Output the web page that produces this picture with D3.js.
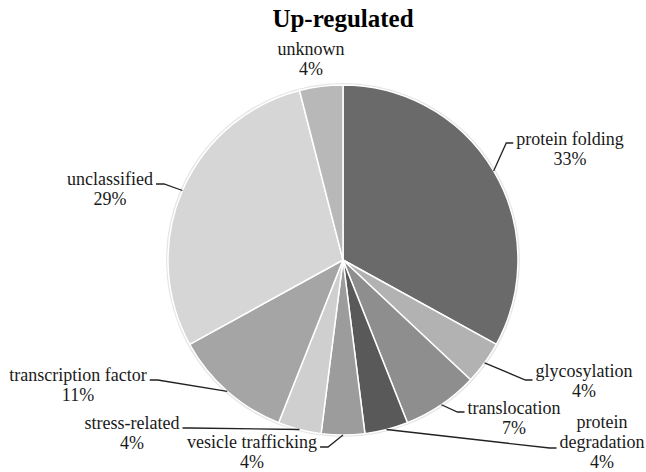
<!DOCTYPE html>
<html>
<head>
<meta charset="utf-8">
<script src="https://cdn.jsdelivr.net/npm/d3@7"></script>
<style>
  body { margin: 0; background: #fff; }
</style>
</head>
<body>
<div id="chart"></div>
<script>
var width = 646;
var height = 472;
var fontFamily = "'Liberation Serif', 'Times New Roman', Times, serif";

// slices, clockwise from 12 o'clock
var categories = ["protein folding", "glycosylation", "translocation", "protein degradation",
    "vesicle trafficking", "stress-related", "transcription factor", "unclassified", "unknown"];
var percents = [33, 4, 7, 4, 4, 4, 11, 29, 4];
var colors = ["#6a6a6a", "#b2b2b2", "#8e8e8e", "#595959", "#9c9c9c", "#cfcfcf", "#a5a5a5", "#d6d6d6", "#b8b8b8"];

// label text lines (the percentage is added as last line)
var labelLines = [
    ["protein folding"], ["glycosylation"], ["translocation"], ["protein", "degradation"],
    ["vesicle trafficking"], ["stress-related"], ["transcription factor"], ["unclassified"], ["unknown"]
];

// where each label sits (text centre x, first baseline y), which side the leader comes in from,
// which line it attaches to, and vertical nudge of the tail
var labelLayout = [
    {x: 570, y: 145, side: "left", line: 0, dy: -2},
    {x: 584, y: 377, side: "left", line: 0, dy: 3},
    {x: 514, y: 414, side: "left", line: 0, dy: -2},
    {x: 602, y: 428, side: "left", line: 1, dy: 0},
    {x: 252, y: 448, side: "right", line: 0, dy: -1},
    {x: 132, y: 429, side: "right", line: 0, dy: -1},
    {x: 78, y: 381, side: "right", line: 0, dy: -1},
    {x: 110, y: 185, side: "right", line: 0, dy: -1},
    {x: 311, y: 55, side: null, line: 0, dy: 0}
];

var cx = 343, cy = 260, radius = 175;
var lineH = 20;
var labelSize = 18;

var svg = d3.select("#chart").append("svg")
    .attr("width", width)
    .attr("height", height);

svg.append("text")
    .attr("x", cx)
    .attr("y", 27)
    .attr("text-anchor", "middle")
    .attr("font-family", fontFamily)
    .attr("font-size", 25)
    .attr("font-weight", "bold")
    .attr("fill", "#000")
    .text("Up-regulated");

var pie = d3.pie().sort(null).value(d => d);
var arcs = pie(percents);

var arc = d3.arc().innerRadius(0).outerRadius(radius);
var edgeArc = d3.arc().innerRadius(radius).outerRadius(radius);

var g = svg.append("g").attr("transform", `translate(${cx},${cy})`);

// faint rim round the pie
g.append("circle")
    .attr("r", radius + 1)
    .attr("fill", "none")
    .attr("stroke", "#e6e6e6")
    .attr("stroke-width", 2);

g.selectAll("path.slice")
    .data(arcs)
    .enter()
    .append("path")
    .attr("class", "slice")
    .attr("d", arc)
    .attr("fill", (d, i) => colors[i])
    .attr("stroke", "#fff")
    .attr("stroke-width", 1.5)
    .attr("stroke-linejoin", "round");

// labels
var labels = svg.selectAll("g.label")
    .data(arcs)
    .enter()
    .append("g")
    .attr("class", "label");

labels.each(function(d, i) {
    var lay = labelLayout[i];
    var lines = labelLines[i].concat([percents[i] + "%"]);
    var t = d3.select(this).append("text")
        .attr("text-anchor", "middle")
        .attr("font-family", fontFamily)
        .attr("font-size", labelSize)
        .attr("fill", "#1a1a1a");
    lines.forEach((s, k) => {
        t.append("tspan")
            .attr("x", lay.x)
            .attr("y", lay.y + k * lineH)
            .text(s);
    });
    if (!lay.side) return;

    // width of the line the leader attaches to
    var tmp = svg.append("text")
        .attr("font-family", fontFamily)
        .attr("font-size", labelSize)
        .text(lines[lay.line]);
    var w = tmp.node().getComputedTextLength();
    tmp.remove();

    var ty = lay.y + lay.line * lineH + lay.dy;
    var tx, ex;
    if (lay.side === "left") {
        tx = lay.x - w / 2 - 3;
        ex = tx - 7;
    } else {
        tx = lay.x + w / 2 + 3;
        ex = tx + 8;
    }
    var c = edgeArc.centroid(d);
    var pts = [[tx, ty], [ex, ty], [cx + c[0], cy + c[1]]];
    svg.append("path")
        .attr("d", d3.line()(pts))
        .attr("fill", "none")
        .attr("stroke", "#222")
        .attr("stroke-width", 1.3);
});
</script>
</body>
</html>
